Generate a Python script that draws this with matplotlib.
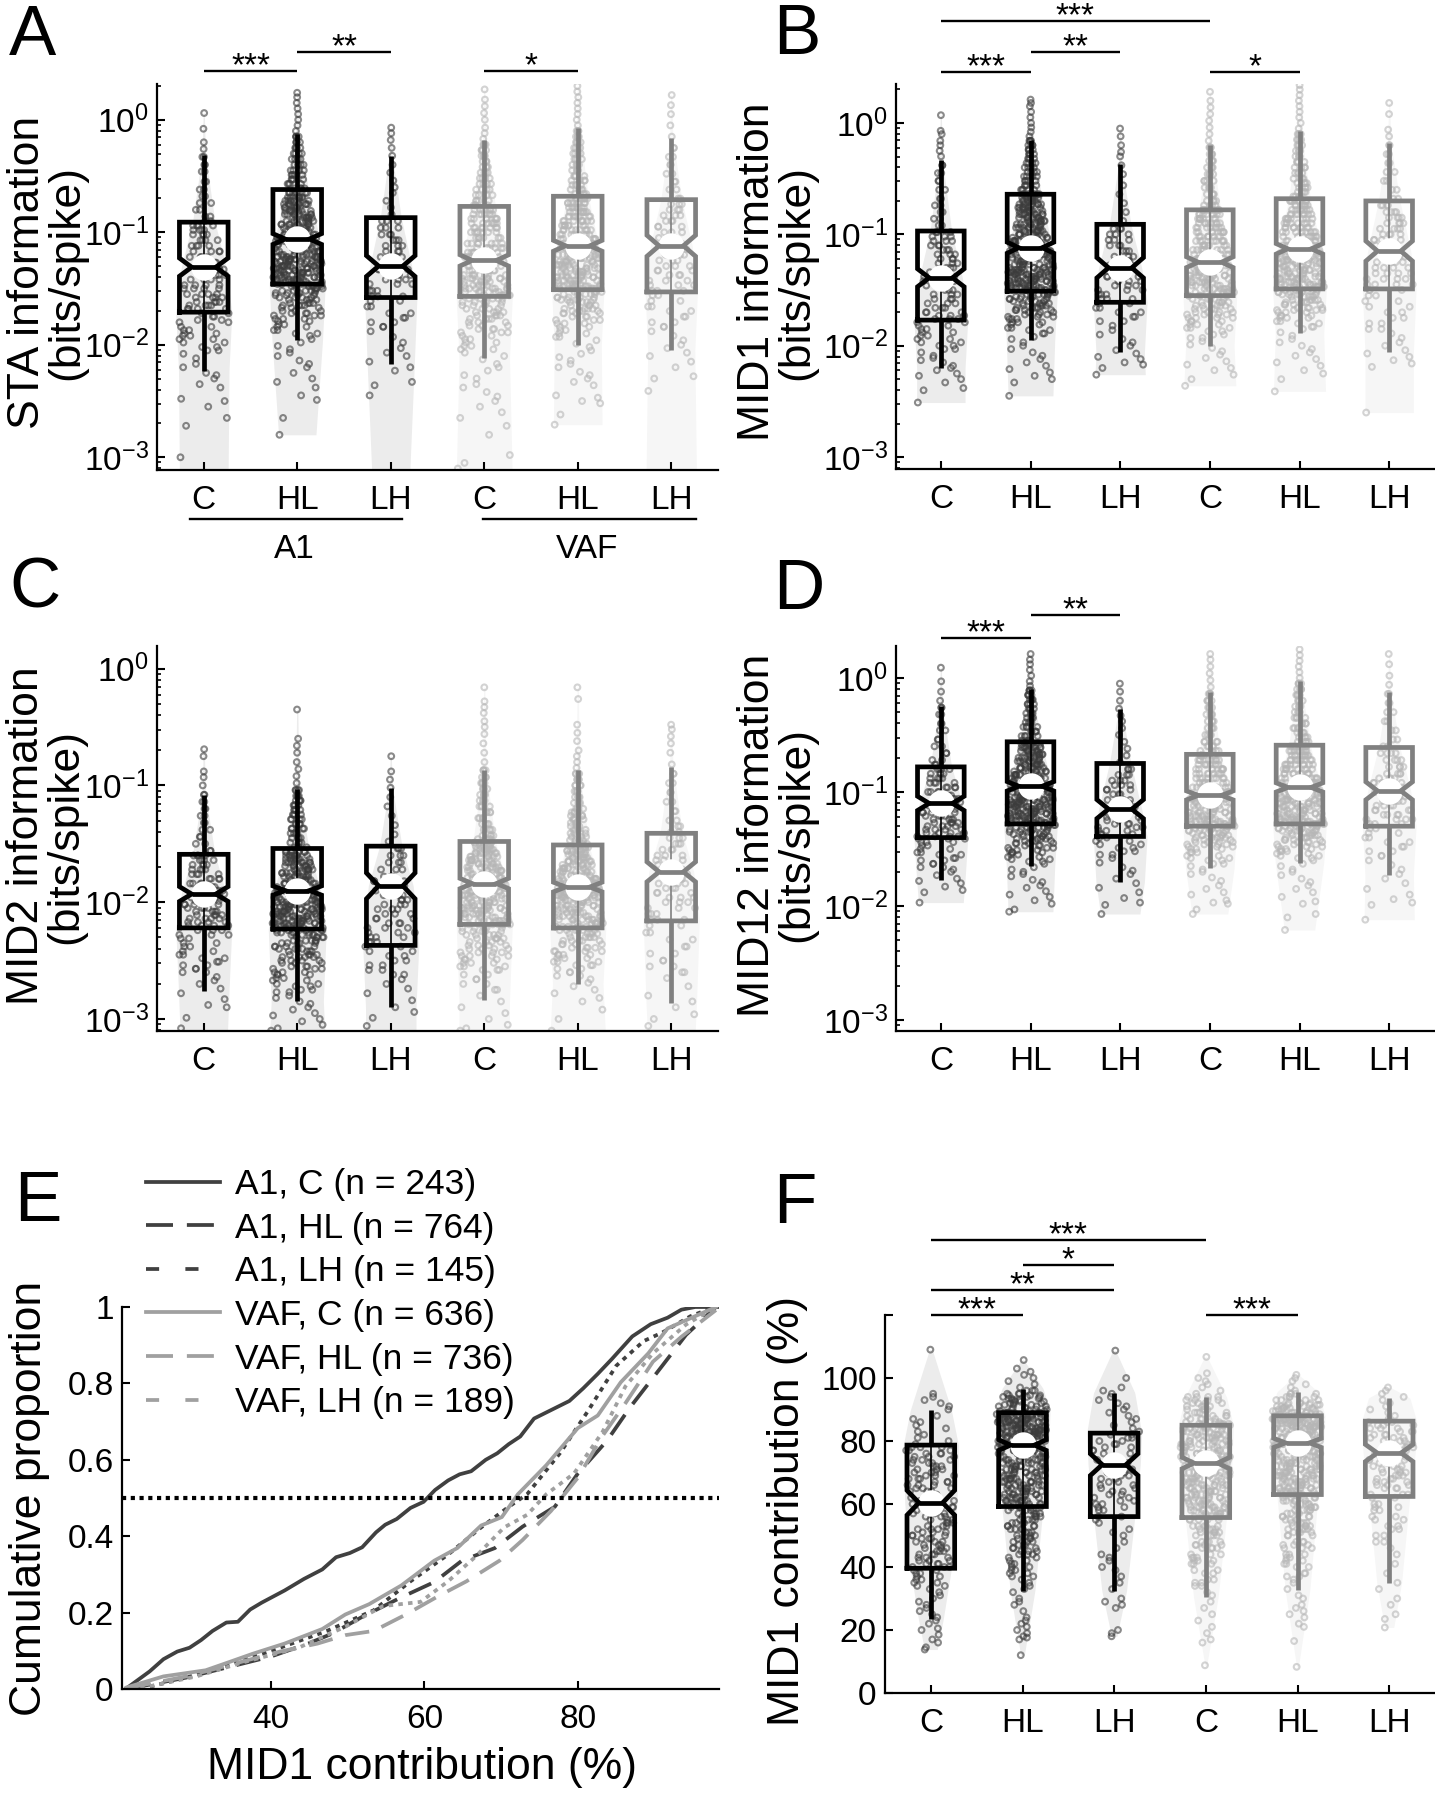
import matplotlib
matplotlib.use('Agg')
import matplotlib.pyplot as plt
import numpy as np
from matplotlib.lines import Line2D
from matplotlib.ticker import FixedLocator, LogLocator, NullFormatter

plt.rcParams['font.family'] = ['Liberation Sans', 'DejaVu Sans']
plt.rcParams['mathtext.fontset'] = 'custom'
plt.rcParams['mathtext.rm'] = 'Liberation Sans'
plt.rcParams['mathtext.default'] = 'regular'

W, H = 1435, 1800
group_labels = ['C', 'HL', 'LH', 'C', 'HL', 'LH']
group_n = [243, 764, 145, 636, 736, 189]

# box values are log10(bits/spike) for panels A-D
sta_lo = [-2.23, -1.96, -2.17, -2.12, -2.0, -2.05]
sta_q1 = [-1.71, -1.46, -1.58, -1.57, -1.51, -1.53]
sta_med = [-1.31, -1.06, -1.30, -1.25, -1.12, -1.12]
sta_q3 = [-0.91, -0.62, -0.87, -0.77, -0.68, -0.71]
sta_hi = [-0.31, -0.13, -0.32, -0.18, -0.07, -0.16]
sta_floor = [-3.2, -2.8, -3.2, -3.2, -2.71, -3.2]
sta_bw = [.26, .2, .2, .3, .26, .27]
sta_mw = [.3, .3, .28, .3, .28, .28]
sta_pts = [
    [-3.0,-2.72,-2.65,-2.55,-2.5,-2.48,-2.38,-2.35,-2.3,-2.27,-2.25,-2.2,-2.17,-2.12,-2.08,-2.05,-2.02,-1.98,-1.95,-1.92,-1.9,-1.87,-1.84,-1.8,-1.78,-1.75,-1.72,-1.68,-1.65,-1.62,-1.58,-1.55,-1.5,-1.47,-1.42,-1.38,-1.33,-1.27,-1.22,-1.17,-1.12,-1.07,-1.02,-.98,-.94,-.9,-.86,-.8,-.74,-.68,-.62,-.55,-.46,-.4,-.33,-.26,-.2,-.08,.06],
    [-2.8,-2.65,-2.49,-2.45,-2.38,-2.33,-2.3,-2.25,-2.2,-2.17,-2.14,-2.1,-2.07,-2.04,-2.01,-1.98,-1.95,-1.92,-1.9,-1.87,-1.84,-1.82,-1.79,-1.77,-1.74,-1.72,-1.7,-1.67,-1.65,-1.63,-1.6,-1.58,-1.56,-1.54,-1.52,-1.5,-1.48,-1.46,-1.44,-1.42,-1.4,-1.38,-1.36,-1.34,-1.32,-1.3,-1.28,-1.26,-1.24,-1.22,-1.2,-1.17,-1.14,-1.11,-1.08,-1.05,-1.02,-.99,-.96,-.93,-.9,-.87,-.84,-.81,-.78,-.75,-.72,-.69,-.65,-.61,-.57,-.53,-.49,-.45,-.4,-.35,-.3,-.25,-.2,-.15,-.1,-.05,0,.05,.1,.15,.2,.24],
    [-2.45,-2.36,-2.33,-2.23,-2.2,-2.15,-2.1,-2.07,-2.03,-1.98,-1.93,-1.88,-1.84,-1.8,-1.76,-1.72,-1.66,-1.61,-1.57,-1.52,-1.46,-1.42,-1.38,-1.33,-1.28,-1.22,-1.17,-1.12,-1.07,-1.02,-.96,-.9,-.84,-.78,-.72,-.65,-.6,-.54,-.47,-.4,-.32,-.25,-.18,-.12,-.07],
    [-3.1,-3.05,-2.98,-2.8,-2.72,-2.65,-2.6,-2.55,-2.5,-2.46,-2.42,-2.38,-2.35,-2.3,-2.27,-2.23,-2.2,-2.17,-2.13,-2.1,-2.07,-2.04,-2.01,-1.98,-1.95,-1.92,-1.89,-1.86,-1.83,-1.8,-1.77,-1.74,-1.71,-1.68,-1.65,-1.62,-1.59,-1.56,-1.53,-1.5,-1.47,-1.44,-1.41,-1.38,-1.34,-1.3,-1.26,-1.22,-1.18,-1.14,-1.1,-1.05,-1.0,-.96,-.92,-.88,-.84,-.8,-.76,-.72,-.67,-.62,-.57,-.52,-.47,-.42,-.37,-.32,-.27,-.22,-.17,-.12,-.07,0,.06,.12,.18,.27],
    [-2.71,-2.62,-2.52,-2.5,-2.47,-2.45,-2.36,-2.33,-2.3,-2.27,-2.24,-2.2,-2.17,-2.14,-2.11,-2.08,-2.05,-2.02,-1.99,-1.96,-1.93,-1.9,-1.87,-1.84,-1.81,-1.78,-1.75,-1.72,-1.7,-1.68,-1.65,-1.62,-1.6,-1.58,-1.55,-1.53,-1.5,-1.48,-1.46,-1.43,-1.4,-1.38,-1.35,-1.32,-1.29,-1.26,-1.23,-1.2,-1.17,-1.14,-1.1,-1.06,-1.02,-.98,-.94,-.9,-.86,-.82,-.78,-.74,-.7,-.66,-.62,-.58,-.54,-.5,-.45,-.4,-.35,-.3,-.25,-.2,-.15,-.1,-.05,0,.05,.1,.15,.2,.25,.3],
    [-2.41,-2.3,-2.28,-2.2,-2.15,-2.1,-2.07,-2.03,-2.0,-1.96,-1.92,-1.88,-1.84,-1.8,-1.75,-1.7,-1.66,-1.61,-1.56,-1.52,-1.47,-1.43,-1.38,-1.34,-1.3,-1.25,-1.2,-1.15,-1.1,-1.05,-1.0,-.95,-.9,-.85,-.8,-.75,-.7,-.62,-.55,-.48,-.4,-.33,-.25,-.15,-.05,.05,.13,.22],
]

mid1_lo = [-2.20, -1.95, -2.06, -2.0, -1.89, -2.06]
mid1_q1 = [-1.77, -1.51, -1.61, -1.55, -1.49, -1.49]
mid1_med = [-1.39, -1.12, -1.30, -1.25, -1.13, -1.15]
mid1_q3 = [-0.97, -0.64, -0.91, -0.78, -0.68, -0.70]
mid1_hi = [-0.33, -0.15, -0.37, -0.20, -0.07, -0.18]
mid1_floor = [-2.51, -2.45, -2.26, -2.36, -2.41, -2.6]
mid1_bw = [.27, .25, .28, .29, .29, .27]
mid1_mw = [.3, .3, .3, .3, .3, .3]
mid1_pts = [
    [-2.51,-2.4,-2.38,-2.33,-2.3,-2.27,-2.25,-2.22,-2.2,-2.18,-2.15,-2.13,-2.11,-2.09,-2.06,-2.03,-2.0,-1.97,-1.94,-1.91,-1.88,-1.85,-1.82,-1.79,-1.76,-1.73,-1.7,-1.66,-1.62,-1.58,-1.54,-1.5,-1.46,-1.42,-1.38,-1.34,-1.3,-1.26,-1.22,-1.18,-1.14,-1.1,-1.06,-1.02,-.98,-.92,-.86,-.8,-.74,-.68,-.6,-.52,-.45,-.38,-.3,-.25,-.2,-.16,-.1,-.07,.07],
    [-2.45,-2.33,-2.3,-2.27,-2.24,-2.21,-2.18,-2.15,-2.12,-2.09,-2.06,-2.03,-2.0,-1.97,-1.94,-1.92,-1.89,-1.86,-1.84,-1.81,-1.79,-1.76,-1.74,-1.72,-1.7,-1.68,-1.66,-1.64,-1.62,-1.6,-1.58,-1.56,-1.54,-1.52,-1.5,-1.48,-1.46,-1.44,-1.42,-1.4,-1.38,-1.36,-1.34,-1.32,-1.3,-1.27,-1.24,-1.21,-1.18,-1.15,-1.12,-1.09,-1.06,-1.03,-1.0,-.97,-.94,-.91,-.88,-.85,-.82,-.79,-.76,-.73,-.7,-.67,-.64,-.6,-.56,-.52,-.48,-.44,-.4,-.36,-.32,-.28,-.24,-.2,-.16,-.12,-.08,-.04,0,.05,.1,.15,.18,.21],
    [-2.26,-2.2,-2.17,-2.15,-2.12,-2.1,-2.07,-2.04,-2.0,-1.97,-1.94,-1.9,-1.86,-1.82,-1.78,-1.74,-1.7,-1.66,-1.62,-1.58,-1.54,-1.5,-1.46,-1.42,-1.38,-1.33,-1.28,-1.24,-1.2,-1.15,-1.1,-1.05,-1.0,-.95,-.88,-.8,-.72,-.64,-.56,-.46,-.38,-.3,-.26,-.2,-.12,-.05],
    [-2.36,-2.3,-2.26,-2.22,-2.2,-2.17,-2.14,-2.11,-2.08,-2.05,-2.02,-1.99,-1.96,-1.93,-1.9,-1.87,-1.84,-1.81,-1.78,-1.75,-1.72,-1.7,-1.67,-1.64,-1.61,-1.58,-1.55,-1.52,-1.49,-1.46,-1.43,-1.4,-1.37,-1.34,-1.31,-1.28,-1.25,-1.22,-1.18,-1.14,-1.1,-1.06,-1.02,-.98,-.94,-.9,-.86,-.82,-.78,-.74,-.7,-.64,-.58,-.52,-.46,-.4,-.34,-.28,-.22,-.16,-.1,-.04,.02,.08,.14,.2,.28],
    [-2.41,-2.3,-2.25,-2.22,-2.18,-2.15,-2.12,-2.09,-2.06,-2.03,-2.0,-1.97,-1.94,-1.91,-1.88,-1.85,-1.83,-1.8,-1.78,-1.75,-1.73,-1.7,-1.68,-1.66,-1.63,-1.61,-1.59,-1.56,-1.54,-1.52,-1.5,-1.47,-1.45,-1.43,-1.4,-1.38,-1.35,-1.32,-1.29,-1.26,-1.23,-1.2,-1.17,-1.14,-1.1,-1.06,-1.02,-.98,-.94,-.9,-.86,-.82,-.78,-.74,-.7,-.66,-.62,-.58,-.54,-.5,-.45,-.4,-.35,-.3,-.25,-.2,-.15,-.1,-.05,0,.05,.1,.15,.2,.25,.3,.34],
    [-2.6,-2.19,-2.16,-2.13,-2.1,-2.07,-2.04,-2.0,-1.97,-1.93,-1.89,-1.85,-1.8,-1.75,-1.7,-1.65,-1.6,-1.55,-1.5,-1.45,-1.4,-1.35,-1.3,-1.25,-1.2,-1.15,-1.1,-1.05,-1.0,-.95,-.9,-.85,-.8,-.74,-.68,-.6,-.52,-.44,-.36,-.28,-.2,-.12,-.06,.08,.18],
]

mid2_lo = [-2.76, -2.85, -2.90, -2.84, -2.70, -2.86]
mid2_q1 = [-2.22, -2.23, -2.37, -2.19, -2.22, -2.16]
mid2_med = [-1.93, -1.90, -1.86, -1.84, -1.87, -1.74]
mid2_q3 = [-1.59, -1.54, -1.52, -1.48, -1.51, -1.41]
mid2_hi = [-1.08, -1.03, -1.02, -0.87, -0.87, -0.84]
mid2_floor = [-3.2, -3.2, -3.2, -3.2, -3.2, -3.2]
mid2_bw = [.25, .3, .27, .27, .3, .25]
mid2_mw = [.3, .31, .3, .3, .3, .3]
mid2_pts = [
    [-3.08,-2.99,-2.9,-2.88,-2.83,-2.78,-2.74,-2.7,-2.67,-2.64,-2.6,-2.57,-2.54,-2.51,-2.48,-2.45,-2.42,-2.38,-2.35,-2.31,-2.28,-2.24,-2.2,-2.17,-2.14,-2.11,-2.08,-2.05,-2.02,-1.99,-1.96,-1.93,-1.9,-1.87,-1.84,-1.8,-1.76,-1.72,-1.68,-1.64,-1.6,-1.56,-1.5,-1.44,-1.38,-1.32,-1.26,-1.2,-1.14,-1.08,-1.0,-.93,-.88,-.75,-.69],
    [-3.1,-3.08,-3.05,-3.02,-3.0,-2.97,-2.95,-2.92,-2.9,-2.87,-2.85,-2.82,-2.8,-2.77,-2.75,-2.72,-2.7,-2.67,-2.65,-2.62,-2.6,-2.57,-2.55,-2.52,-2.5,-2.47,-2.45,-2.42,-2.4,-2.38,-2.35,-2.33,-2.3,-2.28,-2.26,-2.24,-2.22,-2.2,-2.18,-2.16,-2.14,-2.12,-2.1,-2.08,-2.06,-2.04,-2.02,-2.0,-1.98,-1.96,-1.94,-1.92,-1.9,-1.87,-1.84,-1.81,-1.78,-1.75,-1.72,-1.69,-1.66,-1.63,-1.6,-1.57,-1.53,-1.49,-1.45,-1.41,-1.37,-1.33,-1.29,-1.25,-1.21,-1.17,-1.13,-1.09,-1.04,-.98,-.92,-.86,-.8,-.72,-.66,-.6,-.35],
    [-3.06,-2.99,-2.94,-2.9,-2.84,-2.78,-2.74,-2.7,-2.66,-2.62,-2.58,-2.54,-2.5,-2.46,-2.42,-2.38,-2.34,-2.3,-2.26,-2.22,-2.18,-2.14,-2.1,-2.06,-2.02,-1.98,-1.94,-1.9,-1.86,-1.82,-1.78,-1.72,-1.66,-1.6,-1.54,-1.48,-1.42,-1.34,-1.26,-1.18,-1.1,-1.02,-.95,-.88,-.75],
    [-3.1,-3.08,-3.05,-3.0,-2.95,-2.9,-2.85,-2.8,-2.75,-2.7,-2.66,-2.62,-2.58,-2.55,-2.52,-2.49,-2.46,-2.43,-2.4,-2.37,-2.34,-2.31,-2.28,-2.25,-2.22,-2.19,-2.16,-2.13,-2.1,-2.07,-2.05,-2.03,-2.0,-1.97,-1.94,-1.91,-1.88,-1.85,-1.82,-1.79,-1.76,-1.73,-1.7,-1.67,-1.64,-1.61,-1.58,-1.55,-1.52,-1.49,-1.46,-1.43,-1.38,-1.33,-1.28,-1.23,-1.18,-1.13,-1.08,-1.03,-.98,-.93,-.87,-.8,-.72,-.64,-.56,-.5,-.45,-.38,-.33,-.28,-.16],
    [-3.1,-3.0,-2.92,-2.85,-2.82,-2.78,-2.75,-2.72,-2.69,-2.66,-2.63,-2.6,-2.57,-2.54,-2.51,-2.48,-2.45,-2.42,-2.39,-2.36,-2.33,-2.3,-2.27,-2.24,-2.21,-2.18,-2.15,-2.12,-2.09,-2.06,-2.03,-2.0,-1.98,-1.96,-1.94,-1.92,-1.9,-1.88,-1.86,-1.84,-1.82,-1.8,-1.77,-1.74,-1.71,-1.68,-1.65,-1.62,-1.59,-1.56,-1.53,-1.5,-1.47,-1.44,-1.41,-1.38,-1.35,-1.32,-1.29,-1.26,-1.23,-1.2,-1.15,-1.1,-1.05,-1.0,-.95,-.9,-.85,-.8,-.75,-.7,-.62,-.55,-.48,-.26,-.16],
    [-3.06,-3.0,-2.96,-2.9,-2.85,-2.8,-2.72,-2.65,-2.6,-2.55,-2.5,-2.44,-2.38,-2.32,-2.26,-2.2,-2.15,-2.1,-2.05,-2.0,-1.96,-1.92,-1.88,-1.84,-1.8,-1.76,-1.72,-1.68,-1.64,-1.6,-1.55,-1.5,-1.45,-1.4,-1.35,-1.3,-1.22,-1.14,-1.06,-.98,-.9,-.82,-.72,-.64,-.58,-.52,-.48],
]

mid12_lo = [-1.77, -1.65, -1.79, -1.67, -1.62, -1.73]
mid12_q1 = [-1.40, -1.28, -1.39, -1.30, -1.28, -1.30]
mid12_med = [-1.10, -0.95, -1.15, -1.03, -0.96, -0.99]
mid12_q3 = [-0.78, -0.56, -0.75, -0.67, -0.59, -0.61]
mid12_hi = [-0.25, -0.10, -0.27, -0.12, -0.03, -0.12]
mid12_floor = [-1.97, -2.05, -2.07, -2.07, -2.21, -2.12]
mid12_bw = [.25, .25, .22, .2, .17, .28]
mid12_mw = [.3, .3, .3, .3, .3, .3]
mid12_pts = [
    [-1.97,-1.88,-1.86,-1.83,-1.8,-1.78,-1.76,-1.73,-1.7,-1.68,-1.66,-1.63,-1.6,-1.58,-1.55,-1.53,-1.5,-1.47,-1.44,-1.41,-1.39,-1.36,-1.33,-1.3,-1.27,-1.24,-1.21,-1.18,-1.15,-1.12,-1.09,-1.06,-1.03,-1.0,-.96,-.92,-.88,-.84,-.8,-.76,-.72,-.66,-.6,-.54,-.46,-.4,-.32,-.26,-.2,-.12,-.03,.09],
    [-2.05,-2.03,-1.98,-1.95,-1.92,-1.9,-1.87,-1.84,-1.82,-1.79,-1.77,-1.74,-1.72,-1.7,-1.68,-1.66,-1.63,-1.61,-1.59,-1.57,-1.55,-1.53,-1.51,-1.49,-1.47,-1.45,-1.43,-1.41,-1.39,-1.37,-1.35,-1.33,-1.31,-1.29,-1.27,-1.25,-1.23,-1.21,-1.19,-1.17,-1.15,-1.13,-1.11,-1.09,-1.07,-1.05,-1.03,-1.0,-.97,-.94,-.91,-.88,-.85,-.82,-.79,-.76,-.73,-.7,-.67,-.64,-.61,-.58,-.55,-.51,-.47,-.43,-.39,-.35,-.31,-.27,-.23,-.19,-.15,-.11,-.07,-.03,.02,.07,.12,.16,.21],
    [-2.07,-1.99,-1.97,-1.93,-1.88,-1.84,-1.8,-1.76,-1.72,-1.69,-1.66,-1.62,-1.58,-1.55,-1.52,-1.49,-1.46,-1.43,-1.4,-1.37,-1.34,-1.31,-1.28,-1.25,-1.22,-1.19,-1.16,-1.13,-1.1,-1.07,-1.02,-.98,-.94,-.9,-.85,-.8,-.74,-.68,-.62,-.56,-.5,-.44,-.38,-.33,-.27,-.2,-.12,-.05],
    [-2.07,-2.03,-1.98,-1.97,-1.95,-1.9,-1.88,-1.85,-1.82,-1.78,-1.75,-1.72,-1.7,-1.68,-1.65,-1.63,-1.6,-1.58,-1.56,-1.53,-1.5,-1.48,-1.46,-1.44,-1.42,-1.4,-1.38,-1.36,-1.34,-1.32,-1.3,-1.28,-1.26,-1.24,-1.21,-1.18,-1.15,-1.12,-1.09,-1.06,-1.03,-1.0,-.96,-.92,-.88,-.84,-.8,-.76,-.72,-.68,-.64,-.6,-.56,-.5,-.44,-.38,-.32,-.26,-.2,-.14,-.08,-.02,.04,.1,.16,.21],
    [-2.21,-2.1,-2.07,-1.98,-1.96,-1.92,-1.88,-1.85,-1.82,-1.79,-1.76,-1.73,-1.7,-1.68,-1.65,-1.63,-1.6,-1.58,-1.56,-1.54,-1.52,-1.5,-1.48,-1.46,-1.44,-1.42,-1.4,-1.38,-1.36,-1.34,-1.32,-1.3,-1.28,-1.26,-1.24,-1.22,-1.19,-1.16,-1.13,-1.1,-1.07,-1.04,-1.01,-.98,-.95,-.92,-.88,-.84,-.8,-.76,-.72,-.68,-.64,-.6,-.56,-.52,-.48,-.44,-.4,-.35,-.3,-.25,-.2,-.15,-.1,-.05,0,.05,.1,.15,.2,.25],
    [-2.12,-1.99,-1.97,-1.94,-1.9,-1.85,-1.8,-1.76,-1.72,-1.68,-1.64,-1.6,-1.56,-1.52,-1.48,-1.44,-1.4,-1.36,-1.32,-1.28,-1.24,-1.2,-1.16,-1.12,-1.08,-1.04,-1.0,-.96,-.92,-.88,-.84,-.78,-.72,-.66,-.6,-.54,-.46,-.38,-.3,-.22,-.14,-.06,.02,.12,.21],
]

# panel F, MID1 contribution (%)
frac_lo = [23.4, 32.5, 32.5, 30.6, 32.8, 35.0]
frac_q1 = [39.6, 59.2, 56.0, 55.7, 63.0, 62.4]
frac_med = [60.4, 78.7, 72.5, 73.0, 79.4, 76.2]
frac_q3 = [78.7, 89.0, 82.5, 85.0, 88.0, 86.3]
frac_hi = [89.7, 96.6, 95.3, 94.0, 95.6, 93.7]
frac_floor = [13.8, 12.0, 18.0, 8.8, 8.3, 20.8]
frac_bw = [.07, .02, .03, .01, .01, .05]
frac_mw = [.3, .3, .3, .3, .3, .3]
frac_pts = [
    [13.8,14.5,16,17,18.5,20,20.5,22,23,24,25,26,27,28,29,30,31,32,33,34,35,36,37,38,39,40,41,42,43,44,45,46,47,48,49,50,51,52,53,54,55,56,57,58,59,60,61,62,63,64,65,66,67,68,69,70,71,72,73,74,75,76,77,78,79,80,81,82,83,84,85,86,87,88,90,91,92,93,94,95,109],
    [12,17,17.6,18,19,20,21,22,23,24,26,28,29,30,32,33,34,35,36,37,38,39,40,41,42,43,44,45,46,47,48,49,50,51,52,53,54,55,56,57,58,59,60,61,62,63,64,65,66,67,68,69,70,71,72,73,74,75,76,77,78,79,80,81,81.5,82,82.5,83,83.5,84,84.5,85,85.5,86,86.5,87,87.5,88,88.5,89,89.5,90,90.5,91,91.5,92,92.5,93,93.5,94,94.5,95,96,97,98,99,100,101,102,103,105.7],
    [18,19,20,27,28,29,30,33,35,37,39,40,42,43,44,46,48,50,51,52,54,55,56,58,59,60,61,62,63,64,65,66,67,68,69,70,71,72,73,74,75,76,77,78,79,80,81,82,83,84,85,86,87,88,89,90,91,92,93,94,95,96,97,100,108.7],
    [8.8,16,17,19,21,23,25,27,29,31,32,34,35,36,38,39,41,42,43,44,46,47,48,50,51,52,53,55,56,57,58,59,60,61,62,63,64,65,66,67,68,69,70,71,72,73,74,75,76,77,78,79,80,81,82,83,84,85,85.5,86,87,88,89,90,91,92,93,94,95,96,97,98,99,100,101.5,106.7],
    [8.3,16.5,21,22,24,25,26,27,28,30,31,33,35,36,37,38,40,41,42,43,44,46,47,48,50,51,52,53,54,55,56,57,58,59,60,61,62,63,64,65,66,67,68,69,70,71,72,73,74,75,76,77,78,79,80,81,82,83,84,84.5,85,85.5,86,86.5,87,87.5,88,88.5,89,89.5,90,90.5,91,91.5,92,93,94,95,96,97,98,99,100,101],
    [20.8,23.5,25,28,30,33,35,38,41,44,46,48,50,52,53,55,56,58,59,60,62,63,65,66,67,68,69,70,71,72,73,74,75,76,77,78,79,80,81,82,83,84,85,86,87,88,89,90,91,92,93,94,95,96,97],
]

# panel E cumulative curves (x in %, y proportion)
a1_c_x = [21.2,24.2,26,27.8,29.4,30.9,32.4,34.2,35.7,37.3,38.8,41.8,44.3,46.7,48.5,50.3,51.9,53.7,54.9,56.4,58.2,59.9,61.4,63.1,64.6,66.1,68,69.5,71,72.5,74.3,76.2,78.9,80.7,82.6,84.4,87.1,89.5,91.7,93.5,95.3,98.2]
a1_c_y = [.002,.046,.078,.098,.108,.128,.152,.174,.176,.208,.226,.258,.288,.313,.345,.356,.371,.41,.43,.445,.474,.49,.521,.546,.562,.57,.6,.617,.641,.661,.708,.727,.754,.787,.825,.863,.923,.955,.972,.993,1,1]
a1_hl_x = [21.2,29,35,40,45,48,52,57,61.3,64.9,69.2,72.8,77,80,83.8,86.8,91,94.1,98]
a1_hl_y = [0,.03,.06,.085,.12,.145,.19,.24,.28,.336,.369,.425,.477,.564,.65,.737,.846,.927,1]
a1_lh_x = [23,29,35,41.2,47.3,53.4,58.2,63.1,67.4,71,73.4,77.7,81.3,85,88.6,91,94.7,97.8]
a1_lh_y = [0,.03,.065,.108,.152,.206,.282,.352,.423,.477,.51,.618,.727,.846,.911,.933,.976,1]
vaf_c_x = [21.2,26,31.5,34.5,37.6,41.8,46.7,49.7,52.8,57,61.3,64.3,67.4,70.1,72.2,75.9,80,82.6,85.6,89.2,91.7,95.3,98]
vaf_c_y = [.004,.033,.049,.07,.092,.119,.157,.195,.222,.271,.336,.369,.428,.45,.51,.586,.683,.716,.803,.879,.944,.976,1]
vaf_hl_x = [21.2,29,35,41.2,46.1,49.7,53.4,57.6,61.9,65.5,69.8,72.8,76.5,80,83.2,86.2,89.8,93.5,98]
vaf_hl_y = [.002,.033,.065,.098,.119,.141,.152,.195,.244,.282,.336,.39,.466,.553,.662,.748,.857,.922,.992]
vaf_lh_x = [23,30.3,36.4,43.6,49.7,54.6,59.5,63.1,66.7,70.4,73.4,75.9,79.5,83.2,86.2,89.8,94.1,98]
vaf_lh_y = [.002,.033,.07,.108,.163,.217,.228,.282,.347,.423,.456,.51,.564,.672,.792,.879,.954,1]
legend_labels = ['A1, C (n = 243)', 'A1, HL (n = 764)', 'A1, LH (n = 145)',
                 'VAF, C (n = 636)', 'VAF, HL (n = 736)', 'VAF, LH (n = 189)']

DARK, LIGHT = '#404040', '#a0a0a0'
DASH_HL = (0, (6.5, 3.5))
DOT_LH = (0, (1.2, 1.4))

fig = plt.figure(figsize=(W / 100, H / 100), dpi=100)


def add_ax(left, top, right, bottom):
    ax = fig.add_axes([left / W, 1 - bottom / H, (right - left) / W, (bottom - top) / H])
    ax.spines[['top', 'right']].set_visible(False)
    ax.spines[['left', 'bottom']].set_linewidth(1.6)
    ax.tick_params(which='major', direction='in', length=6, width=1.5, labelsize=24, pad=11)
    ax.tick_params(axis='y', pad=6)
    ax.patch.set_alpha(0)
    return ax


def px_text(x, y, s, **kw):
    fig.text(x / W, 1 - y / H, s, **kw)


def dot_counts(vals, n, lo, q1, q3, hi):
    # the lists above are a thinned reading of the clouds, repeat levels toward the group size
    r = n / (len(vals) * 1.15)
    reps = np.ones(len(vals))
    below = (vals >= lo) & (vals < q1)
    reps[below] = 1 + (r * 0.7 - 1) * (vals[below] - lo) / (q1 - lo)
    reps[(vals >= q1) & (vals <= q3)] = r
    reps[(vals > q3) & (vals <= hi)] = r * 0.5
    return np.maximum(1, np.round(reps)).astype(int)


def box_panel(ax, pts, lo, q1, med, q3, hi, floor, bw, mw, fracs, log=True):
    tr = (lambda v: 10.0 ** np.asarray(v, dtype=float)) if log else (lambda v: np.asarray(v, dtype=float))
    for i in range(6):
        pos = i + 1
        a1 = i < 3
        edge = 'black' if a1 else '#808080'
        dots = '#3c3c3c' if a1 else '#b6b6b6'
        fill = '#ececec' if a1 else '#f6f6f6'
        vals = np.array(pts[i], dtype=float)
        # violin outline, width follows the box landmarks
        ky = [floor[i], lo[i], q1[i], med[i], q3[i], hi[i], max(vals.max(), hi[i])]
        kw = np.array([bw[i] / mw[i]] + list(fracs)) * mw[i]
        yy = np.linspace(ky[0], ky[-1], 200)
        ww = np.interp(yy, ky, kw)
        ax.fill_betweenx(tr(yy), pos - ww, pos + ww, color=fill, lw=0, zorder=1)
        # fixed spread of the dots inside the violin
        drawn = np.repeat(vals, dot_counts(vals, group_n[i], lo[i], q1[i], q3[i], hi[i]))
        k = np.arange(len(drawn))
        spread = ((k * 0.7549 + k * k * 0.37) % 1) * 2 - 1
        ax.scatter(pos + spread * np.interp(drawn, ky, kw) * 0.95, tr(drawn), s=17,
                   facecolors='none', edgecolors=dots, linewidths=1.5, alpha=0.6, zorder=2)
        ax.plot([pos, pos], tr([q1[i], q3[i]]), color=edge, lw=1.2, zorder=2.5)
        ax.plot([pos], tr([med[i]]), 'o', ms=19, mfc='white', mec='none', zorder=3)
        notch = 1.57 * (q3[i] - q1[i]) / np.sqrt(group_n[i])
        stats = [dict(med=float(tr(med[i])), q1=float(tr(q1[i])), q3=float(tr(q3[i])),
                      whislo=float(tr(lo[i])), whishi=float(tr(hi[i])),
                      cilo=float(tr(med[i] - notch)), cihi=float(tr(med[i] + notch)), fliers=[])]
        ax.bxp(stats, positions=[pos], widths=0.52, shownotches=True, showfliers=False,
               showcaps=False, manage_ticks=False, zorder=4,
               boxprops=dict(color=edge, lw=3.4, solid_joinstyle='miter'),
               medianprops=dict(color=edge, lw=3.4, solid_capstyle='butt'),
               whiskerprops=dict(color=edge, lw=3.4, solid_capstyle='butt'))
    ax.set_xlim(0.5, 6.5)
    ax.set_xticks(range(1, 7))
    ax.set_xticklabels(group_labels)


def log_axis(ax, ymin, ymax):
    ax.set_yscale('log')
    ax.set_ylim(10 ** ymin, 10 ** ymax)
    ax.yaxis.set_major_locator(FixedLocator([1e-3, 1e-2, 1e-1, 1]))
    ax.set_yticklabels(['$10^{-3}$', '$10^{-2}$', '$10^{-1}$', '$10^{0}$'])
    ax.yaxis.set_minor_locator(LogLocator(base=10, subs=range(2, 10), numticks=12))
    ax.yaxis.set_minor_formatter(NullFormatter())
    ax.tick_params(axis='y', which='minor', direction='in', length=3, width=1.2)


def sig(ax, x0, x1, frac, stars):
    tr = ax.get_xaxis_transform()
    ax.plot([x0, x1], [frac, frac], color='black', lw=1.7, transform=tr, clip_on=False, solid_capstyle='butt')
    ax.annotate(stars, xy=((x0 + x1) / 2, frac), xycoords=tr, xytext=(0, -3), textcoords='offset points',
                ha='center', va='baseline', fontsize=24, annotation_clip=False)


log_fracs = [.9, 1.0, .8, .4, .06, .02]
f_fracs = [.45, .75, .95, 1.0, .75, .05]

ax_a = add_ax(157, 84, 718, 470)
box_panel(ax_a, sta_pts, sta_lo, sta_q1, sta_med, sta_q3, sta_hi, sta_floor, sta_bw, sta_mw, log_fracs)
log_axis(ax_a, -3.113, 0.318)
sig(ax_a, 1, 2, 1.033, '***')
sig(ax_a, 2, 3, 1.082, '**')
sig(ax_a, 4, 5, 1.033, '*')
tr_a = ax_a.get_xaxis_transform()
ax_a.plot([.85, 3.115], [-.127, -.127], color='black', lw=1.7, transform=tr_a, clip_on=False)
ax_a.plot([3.99, 6.26], [-.127, -.127], color='black', lw=1.7, transform=tr_a, clip_on=False)
ax_a.text(1.97, -.205, 'A1', transform=tr_a, ha='center', va='center', fontsize=24)
ax_a.text(5.1, -.205, 'VAF', transform=tr_a, ha='center', va='center', fontsize=24)

ax_b = add_ax(896, 84, 1434, 469)
box_panel(ax_b, mid1_pts, mid1_lo, mid1_q1, mid1_med, mid1_q3, mid1_hi, mid1_floor, mid1_bw, mid1_mw, log_fracs)
log_axis(ax_b, -3.107, 0.35)
sig(ax_b, 1, 4, 1.163, '***')
sig(ax_b, 2, 3, 1.082, '**')
sig(ax_b, 1, 2, 1.032, '***')
sig(ax_b, 4, 5, 1.032, '*')

ax_c = add_ax(157, 646, 718, 1031)
box_panel(ax_c, mid2_pts, mid2_lo, mid2_q1, mid2_med, mid2_q3, mid2_hi, mid2_floor, mid2_bw, mid2_mw, log_fracs)
log_axis(ax_c, -3.103, 0.194)

ax_d = add_ax(896, 646, 1434, 1031)
box_panel(ax_d, mid12_pts, mid12_lo, mid12_q1, mid12_med, mid12_q3, mid12_hi, mid12_floor, mid12_bw, mid12_mw, log_fracs)
log_axis(ax_d, -3.096, 0.28)
sig(ax_d, 1, 2, 1.021, '***')
sig(ax_d, 2, 3, 1.081, '**')

ax_e = add_ax(122, 1307, 719, 1689)
ax_e.plot(a1_c_x, a1_c_y, color=DARK, lw=2.7)
ax_e.plot(a1_hl_x, a1_hl_y, color=DARK, lw=2.7, ls=DASH_HL)
ax_e.plot(a1_lh_x, a1_lh_y, color=DARK, lw=2.7, ls=DOT_LH)
ax_e.plot(vaf_c_x, vaf_c_y, color=LIGHT, lw=2.7)
ax_e.plot(vaf_hl_x, vaf_hl_y, color=LIGHT, lw=2.7, ls=DASH_HL)
ax_e.plot(vaf_lh_x, vaf_lh_y, color=LIGHT, lw=2.7, ls=DOT_LH)
ax_e.axhline(0.5, color='black', lw=3, ls=(0, (1, 1.1)))
ax_e.set_xlim(20.6, 98.4)
ax_e.set_ylim(0, 1)
ax_e.set_xticks([40, 60, 80])
ax_e.set_yticks([0, .2, .4, .6, .8, 1])
ax_e.set_yticklabels(['0', '0.2', '0.4', '0.6', '0.8', '1'])
handles = [Line2D([], [], color=DARK, lw=2.7),
           Line2D([], [], color=DARK, lw=2.7, ls=(0, (7.2, 3.7))),
           Line2D([], [], color=DARK, lw=2.7, ls=(0, (3.5, 7))),
           Line2D([], [], color=LIGHT, lw=2.7),
           Line2D([], [], color=LIGHT, lw=2.7, ls=(0, (7.2, 3.7))),
           Line2D([], [], color=LIGHT, lw=2.7, ls=(0, (3.5, 7)))]
ax_e.legend(handles, legend_labels, loc='upper left', bbox_to_anchor=(146 / W, 1 - 1168 / H),
            bbox_transform=fig.transFigure, frameon=False, fontsize=25.5, borderpad=0, borderaxespad=0,
            handlelength=2.1, handletextpad=0.42, labelspacing=0.3)

ax_f = add_ax(885, 1315, 1435, 1693)
box_panel(ax_f, frac_pts, frac_lo, frac_q1, frac_med, frac_q3, frac_hi, frac_floor, frac_bw, frac_mw, f_fracs, log=False)
ax_f.set_ylim(0, 120)
ax_f.set_yticks([0, 20, 40, 60, 80, 100, 120])
ax_f.set_yticklabels(['0', '20', '40', '60', '80', '100', ''])
sig(ax_f, 1, 4, 1.198, '***')
sig(ax_f, 2, 3, 1.132, '*')
sig(ax_f, 1, 3, 1.066, '**')
sig(ax_f, 1, 2, 1.0, '***')
sig(ax_f, 4, 5, 1.0, '***')

# axis titles sit over the tick labels in the original, so they are placed by hand
for x, y, s in [(47, 272, 'STA information\n(bits/spike)'), (777, 272, 'MID1 information\n(bits/spike)'),
                (46, 836, 'MID2 information\n(bits/spike)'), (777, 835, 'MID12 information\n(bits/spike)')]:
    px_text(x, y, s, rotation=90, ha='center', va='center', fontsize=32, linespacing=0.95, multialignment='center')
px_text(787, 1511, 'MID1 contribution (%)', rotation=90, ha='center', va='center', fontsize=32)
px_text(30, 1498, 'Cumulative proportion', rotation=90, ha='center', va='center', fontsize=32)
px_text(422, 1768, 'MID1 contribution (%)', ha='center', va='center', fontsize=32)

for x, y, s in [(9, 37, 'A'), (773, 36, 'B'), (9, 589, 'C'), (773, 591, 'D'), (14, 1203, 'E'), (773, 1205, 'F')]:
    px_text(x, y, s, ha='left', va='center', fontsize=51)

fig.savefig('out.png', dpi=100)
